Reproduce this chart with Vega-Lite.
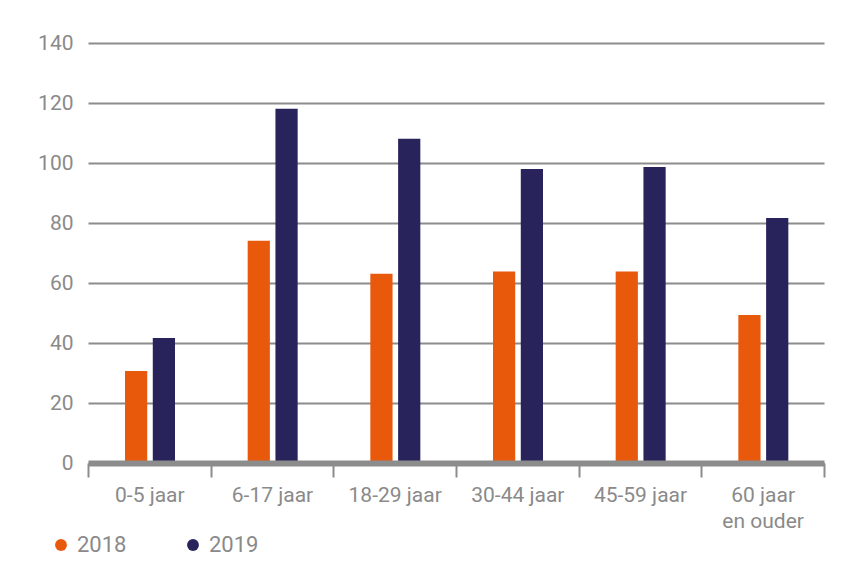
{
  "$schema": "https://vega.github.io/schema/vega-lite/v6.json",
  "width": 736,
  "height": 420,
  "autosize": {"type": "none"},
  "padding": {"left": 88, "top": 43, "right": 41, "bottom": 116},
  "background": "white",
  "config": {
    "view": {"stroke": null},
    "font": "Roboto",
    "axis": {"labelFont": "Roboto", "labelColor": "#8a8a8a", "labelFontSize": 21}
  },
  "data": {
    "values": [
      {"leeftijd": "0-5 jaar", "jaar": "2018", "aantal": 30.7},
      {"leeftijd": "0-5 jaar", "jaar": "2019", "aantal": 41.7},
      {"leeftijd": "6-17 jaar", "jaar": "2018", "aantal": 74.1},
      {"leeftijd": "6-17 jaar", "jaar": "2019", "aantal": 118.1},
      {"leeftijd": "18-29 jaar", "jaar": "2018", "aantal": 63.1},
      {"leeftijd": "18-29 jaar", "jaar": "2019", "aantal": 108.1},
      {"leeftijd": "30-44 jaar", "jaar": "2018", "aantal": 63.8},
      {"leeftijd": "30-44 jaar", "jaar": "2019", "aantal": 98.0},
      {"leeftijd": "45-59 jaar", "jaar": "2018", "aantal": 63.8},
      {"leeftijd": "45-59 jaar", "jaar": "2019", "aantal": 98.7},
      {"leeftijd": "60 jaar en ouder", "jaar": "2018", "aantal": 49.3},
      {"leeftijd": "60 jaar en ouder", "jaar": "2019", "aantal": 81.7}
    ]
  },
  "mark": {"type": "bar"},
  "encoding": {
    "x": {
      "field": "leeftijd",
      "type": "nominal",
      "sort": null,
      "scale": {"paddingInner": 0, "paddingOuter": 0},
      "axis": {
        "title": null,
        "labelAngle": 0,
        "domainColor": "#8c8c8c",
        "domainWidth": 6,
        "tickColor": "#8c8c8c",
        "tickWidth": 2,
        "tickSize": 14,
        "tickBand": "extent",
        "labelPadding": 7,
        "labelLineHeight": 26,
        "labelExpr": "datum.value == '60 jaar en ouder' ? ['60 jaar', 'en ouder'] : datum.label",
        "zindex": 1
      }
    },
    "xOffset": {
      "field": "jaar",
      "type": "nominal",
      "scale": {"range": [37, 87], "paddingInner": 0.2, "paddingOuter": 0}
    },
    "y": {
      "field": "aantal",
      "type": "quantitative",
      "scale": {"domain": [0, 140], "nice": false},
      "axis": {
        "title": null,
        "values": [0, 20, 40, 60, 80, 100, 120, 140],
        "domain": false,
        "ticks": false,
        "tickSize": 0,
        "labelPadding": 15,
        "gridColor": "#8c8c8c",
        "gridWidth": 2
      }
    },
    "color": {
      "field": "jaar",
      "type": "nominal",
      "scale": {"domain": ["2018", "2019"], "range": ["#e9590c", "#28235a"]},
      "legend": {
        "title": null,
        "orient": "none",
        "direction": "horizontal",
        "legendX": -38,
        "legendY": 491,
        "symbolType": "circle",
        "symbolSize": 140,
        "symbolOpacity": 1,
        "labelOffset": 5,
        "labelFont": "Roboto",
        "labelFontSize": 22,
        "labelColor": "#8a8a8a",
        "columnPadding": 55,
        "padding": 0
      }
    }
  }
}
